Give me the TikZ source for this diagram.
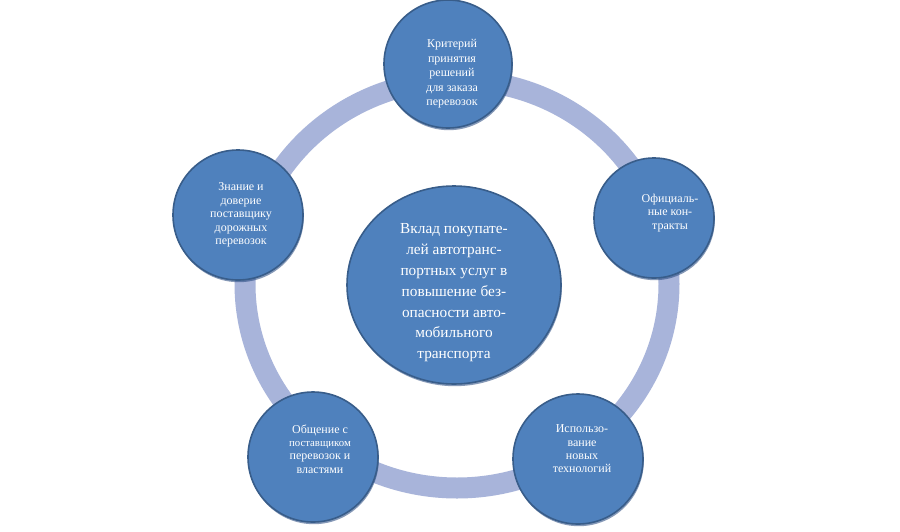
\documentclass[tikz,border=0pt]{standalone}
\usepackage{fontspec}
\setmainfont{Liberation Serif}
\usetikzlibrary{shapes.geometric,shadows}
\definecolor{fillblue}{RGB}{79,129,189}
\definecolor{edgeblue}{RGB}{56,93,138}
\definecolor{ringblue}{RGB}{168,180,218}
\definecolor{shadowblue}{RGB}{35,70,125}
\begin{document}
\begin{tikzpicture}[x=1pt,y=-1pt,
  bubble/.style={circle,draw=edgeblue,line width=1.6pt,fill=fillblue,inner sep=0pt,
    drop shadow={shadow xshift=0.8pt,shadow yshift=-2.2pt,fill=shadowblue,opacity=0.55}},
  hub/.style={ellipse,draw=edgeblue,line width=1.6pt,fill=fillblue,inner sep=0pt,
    minimum width=214pt,minimum height=198pt,
    drop shadow={shadow xshift=0.8pt,shadow yshift=-2.2pt,fill=shadowblue,opacity=0.55}},
  smalltext/.style={text=white,align=center,inner sep=0pt,font=\rmfamily\fontsize{12}{13.4}\selectfont},
  bigtext/.style={text=white,align=center,inner sep=0pt,font=\rmfamily\fontsize{15.3}{20.8}\selectfont}]
\useasboundingbox (0,0) rectangle (900,531);
\fill[white] (0,0) rectangle (900,531);
% ring
\coordinate (ringc) at (457,284);
\draw[ringblue,line width=21pt] (ringc) ellipse [x radius=212pt,y radius=204pt];
% circles
\node[bubble,minimum size=128pt] (top) at (448,64) {};
\node[bubble,minimum size=120pt] (right) at (654,218) {};
\node[bubble,minimum size=130pt] (br) at (578,459) {};
\node[bubble,minimum size=130pt] (bl) at (313,457) {};
\node[bubble,minimum size=130pt] (left) at (238,215) {};
\node[hub] (center) at (454,285) {};
% texts
\node[smalltext,font=\rmfamily\fontsize{12}{14.5}\selectfont] (ttop) at (452,74) {Критерий\\принятия\\решений\\для заказа\\перевозок};
\node[smalltext] (tright) at (670,213) {Официаль-\\ные кон-\\тракты};
\node[smalltext] (tleft) at (241,215) {Знание и\\доверие\\поставщику\\дорожных\\перевозок};
\node[smalltext] (tbl) at (320,449) {Общение с\\{\fontsize{10.8}{13.4}\selectfont поставщиком}\\перевозок и\\властями};
\node[smalltext] (tbr) at (582,449) {Использо-\\вание\\новых\\технологий};
\node[bigtext] (tcenter) at (454,293) {Вклад покупате-\\лей автотранс-\\портных услуг в\\повышение без-\\опасности авто-\\мобильного\\транспорта};
\end{tikzpicture}
\end{document}
